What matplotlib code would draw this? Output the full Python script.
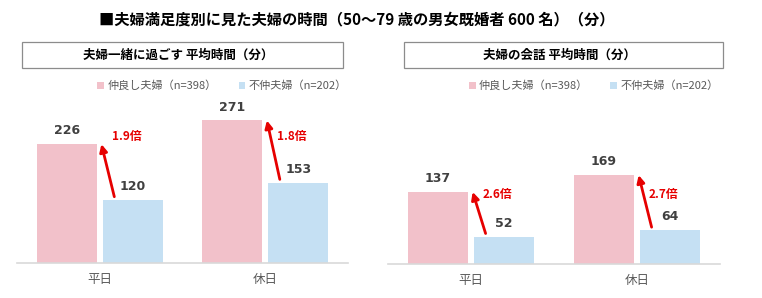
import matplotlib
matplotlib.use("Agg")
import matplotlib.pyplot as plt
from matplotlib.patches import Rectangle

plt.rcParams['font.family'] = ['Noto Sans CJK JP', 'DejaVu Sans']

# data
categories = ['平日', '休日']
series_names = ['仲良し夫婦（n=398）', '不仲夫婦（n=202）']
together_good = [226, 271]
together_bad = [120, 153]
together_ratio = ['1.9倍', '1.8倍']
talk_good = [137, 169]
talk_bad = [52, 64]
talk_ratio = ['2.6倍', '2.7倍']

title = '■夫婦満足度別に見た夫婦の時間（50～79 歳の男女既婚者 600 名）（分）'
panel_titles = ['夫婦一緒に過ごす 平均時間（分）', '夫婦の会話 平均時間（分）']

PINK = '#F2C1CA'
BLUE = '#C5E0F3'
RED = '#E60000'
W, H = 762, 298
PX_PER_UNIT = 0.526

fig = plt.figure(figsize=(W / 100, H / 100), dpi=100)


def fx(px):
    return px / W


def fy(py):
    return 1 - py / H


fig.text(fx(357), fy(19), title, ha='center', va='center', fontsize=11,
         fontweight='bold', color='black')

# panel title boxes (x0, x1 in px)
boxes = [(22, 343), (404, 723)]
for (x0, x1), t in zip(boxes, panel_titles):
    fig.patches.append(Rectangle((fx(x0), fy(68)), fx(x1 - x0), (68 - 42) / H,
                                 transform=fig.transFigure, fill=False,
                                 edgecolor='#8c8c8c', linewidth=0.9))
    fig.text(fx((x0 + x1) / 2 - 4), fy(55.5), t, ha='center', va='center',
             fontsize=9, fontweight='bold', color='black')

# panels: (left px, right px, baseline px, good, bad, ratio, ratio label y)
panels = [
    (17, 348, 263, together_good, together_bad, together_ratio, 240),
    (388, 720, 264, talk_good, talk_bad, talk_ratio, 133),
]
top_px = 95
bw = 0.364
off = 0.2
for left, right, base, good, bad, ratio, ry in panels:
    ax = fig.add_axes([fx(left), fy(base), fx(right - left), (base - top_px) / H])
    ax.set_xlim(-0.5, 1.5)
    ax.set_ylim(0, (base - top_px) / PX_PER_UNIT)
    x = range(len(categories))
    b1 = ax.bar([i - off for i in x], good, width=bw, color=PINK, label=series_names[0])
    b2 = ax.bar([i + off for i in x], bad, width=bw, color=BLUE, label=series_names[1])
    for bars in (b1, b2):
        for r in bars:
            ax.annotate(f'{r.get_height():.0f}', (r.get_x() + r.get_width() / 2, r.get_height()),
                        xytext=(0, 5), textcoords='offset points', ha='center', va='bottom',
                        fontsize=9, fontweight='bold', color='#404040',
                        family='DejaVu Sans')
    for i in x:
        ax.annotate('', xy=(i + 0.01, good[i]), xytext=(i + 0.088, bad[i] + 6),
                    arrowprops=dict(arrowstyle='-|>', color=RED, lw=2,
                                    mutation_scale=11, shrinkA=0, shrinkB=0))
        ax.text(i + 0.072, ry, ratio[i], ha='left', va='center', fontsize=8.5,
                fontweight='bold', color=RED)
    for s in ['top', 'right', 'left']:
        ax.spines[s].set_visible(False)
    ax.spines['bottom'].set_color('#d9d9d9')
    ax.spines['bottom'].set_linewidth(1.2)
    ax.set_yticks([])
    ax.set_xticks(list(x))
    ax.set_xticklabels(categories, fontsize=9, color='#595959')
    ax.tick_params(axis='x', length=0, pad=7)
    ax.patch.set_alpha(0)
    leg = ax.legend(loc='upper center', bbox_to_anchor=(0.62, (base - 76) / (base - top_px)),
                    ncol=2, frameon=False, fontsize=8, handlelength=0.6,
                    handleheight=0.6, handletextpad=0.3, columnspacing=2.0,
                    borderaxespad=0)
    for t in leg.get_texts():
        t.set_color('#595959')

fig.savefig('out.png', dpi=100)
